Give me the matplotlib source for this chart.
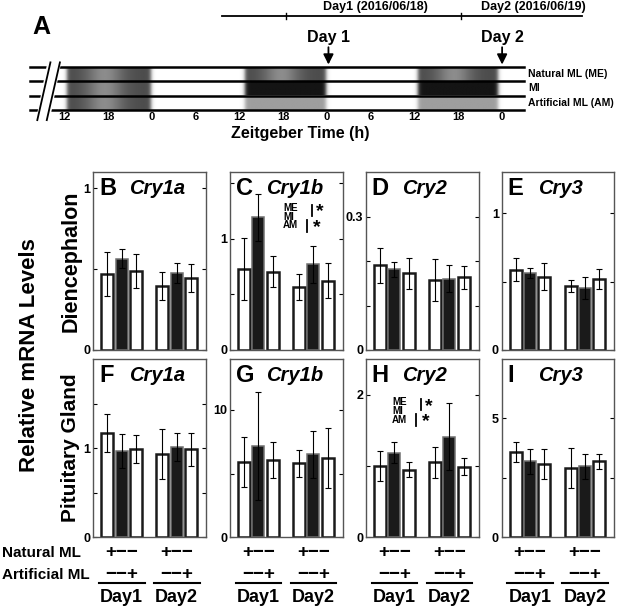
import numpy as np
import matplotlib.pyplot as plt
from matplotlib.transforms import blended_transform_factory

plt.rcParams['font.family'] = ['Liberation Sans', 'DejaVu Sans']
plt.rcParams['font.weight'] = 'bold'

# ---- data ----
genes = ['Cry1a', 'Cry1b', 'Cry2', 'Cry3']
letters_dien = ['B', 'C', 'D', 'E']
letters_pit = ['F', 'G', 'H', 'I']
# bar order: Day1 ME, MI, AM, Day2 ME, MI, AM
dien_mean = [[0.47, 0.565, 0.49, 0.398, 0.476, 0.445],
             [0.728, 1.194, 0.704, 0.567, 0.77, 0.624],
             [0.190, 0.181, 0.172, 0.158, 0.160, 0.163],
             [0.586, 0.562, 0.535, 0.465, 0.45, 0.518]]
dien_err = [[0.135, 0.058, 0.105, 0.086, 0.063, 0.085],
            [0.277, 0.21, 0.14, 0.116, 0.167, 0.16],
            [0.04, 0.016, 0.034, 0.047, 0.03, 0.025],
            [0.084, 0.038, 0.1, 0.043, 0.08, 0.072]]
pit_mean = [[1.17, 0.966, 0.99, 0.936, 1.01, 0.985],
            [5.92, 7.2, 6.07, 5.81, 6.52, 6.23],
            [1.006, 1.185, 0.95, 1.05, 1.41, 0.99],
            [3.6, 3.19, 3.09, 2.92, 2.98, 3.19]]
pit_err = [[0.21, 0.19, 0.16, 0.28, 0.155, 0.18],
           [1.94, 4.24, 1.44, 1.05, 1.85, 2.33],
           [0.21, 0.145, 0.108, 0.22, 0.47, 0.12],
           [0.42, 0.54, 0.64, 0.83, 0.51, 0.33]]
dien_ylim = [1.1, 1.6, 0.4, 1.3]
dien_ticks = [[0, 0.5, 1], [0, 0.5, 1, 1.5], [0, 0.1, 0.2, 0.3], [0, 0.5, 1]]
dien_lab = ['1', '1', '0.3', '1']
pit_ylim = [2.0, 14, 2.5, 7.5]
pit_ticks = [[0, 0.5, 1, 1.5], [0, 5, 10], [0, 1, 2], [0, 2.5, 5]]
pit_lab = ['1', '10', '2', '5']

# panel A: lighting schedule (ZT hours, continuous)
night_on = [12.3, 36.8, 60.5]
night_off = [23.8, 47.9, 71.5]
rows = ['Natural ML (ME)', 'MI', 'Artificial ML (AM)']
row_mode = [['grad', 'grad', 'grad'],
            ['grad', 'black', 'black'],
            ['grad', 'gray', 'gray']]
zt_ticks = [12, 18, 24, 30, 36, 42, 48, 54, 60, 66, 72]
zt_labels = ['12', '18', '0', '6', '12', '18', '0', '6', '12', '18', '0']
date_ticks = [42.4, 66.4]
date_span = [33.6, 82.9]
date_labels = ['Day1 (2016/06/18)', 'Day2 (2016/06/19)']
date_label_x = [54.6, 76.3]
sample_t = [48.2, 72.0]
sample_labels = ['Day 1', 'Day 2']

W, H = 625, 609
fig = plt.figure(figsize=(W / 100, H / 100), dpi=100)


def px_axes(x0, y0, x1, y1):
    return fig.add_axes([x0 / W, 1 - y1 / H, (x1 - x0) / W, (y1 - y0) / H])


# ---- panel A ----
axA = px_axes(30, 66.7, 524, 110)


def band(ax, t0, t1, y0, y1, mode):
    tt = np.linspace(t0 - 0.8, t1 + 0.8, 400)
    edge = 1 / (1 + np.exp(-(tt - t0) / 0.15)) / (1 + np.exp((tt - t1) / 0.15))
    u = (tt - t0) / (t1 - t0)
    if mode == 'grad':
        g = 0.30 + 0.25 * np.exp(-((u - 0.45) / 0.22) ** 2)
    elif mode == 'black':
        g = 0.08 + 0 * u
    else:
        g = 0.62 + 0 * u
    val = 1 - (1 - g) * edge
    ax.imshow(val[None, :], cmap='gray', vmin=0, vmax=1, aspect='auto',
              extent=[tt[0], tt[-1], y0, y1], interpolation='bilinear', zorder=1)


for r in range(3):
    for n in range(3):
        band(axA, night_on[n], night_off[n], 2 - r, 3 - r, row_mode[r][n])
for y in [0, 1, 2, 3]:
    axA.axhline(y, color='black', lw=1.8, clip_on=False, zorder=3)
axA.set_xlim(7.3, 75.0)
axA.set_ylim(0, 3)
for s in axA.spines.values():
    s.set_visible(False)
axA.set_yticks([])
axA.set_xticks(zt_ticks, zt_labels)
axA.tick_params(axis='x', length=0, pad=1.5, labelsize=8)
# axis break
axA.fill([8.2, 9.9, 11.5, 9.8], [-0.7, -0.7, 3.35, 3.35], color='white', zorder=4, clip_on=False)
axA.plot([8.3, 10.1], [-0.7, 3.3], color='black', lw=1.3, zorder=5, clip_on=False)
axA.plot([9.6, 11.4], [-0.7, 3.3], color='black', lw=1.3, zorder=5, clip_on=False)
for r, name in enumerate(rows):
    axA.text(1.008, (2.5 - r) / 3, name, transform=axA.transAxes, ha='left',
             va='center', fontsize=7.5)
for t, lab in zip(sample_t, sample_labels):
    axA.annotate('', xy=(t, 3.15), xytext=(t, 4.35), annotation_clip=False,
                 arrowprops=dict(arrowstyle='-|>,head_width=0.3,head_length=0.6',
                                 color='black', lw=1.3, shrinkA=0, shrinkB=0))
    axA.text(t, 5.05, lab, ha='center', va='center', fontsize=11.5)
trD = blended_transform_factory(axA.transData, fig.transFigure)
yl = 1 - 15.7 / H
axA.plot(date_span, [yl, yl], color='black', lw=1.3, transform=trD, clip_on=False)
for t in date_ticks:
    axA.plot([t, t], [yl - 3 / H, yl + 3 / H], color='black', lw=1.0,
             transform=trD, clip_on=False)
for t, lab in zip(date_label_x, date_labels):
    axA.text(t, 1 - 7 / H, lab, transform=trD, ha='center', va='center', fontsize=9)
fig.text(41 / W, 1 - 27 / H, 'A', fontsize=18, ha='center', va='center')
fig.text(300 / W, 1 - 133 / H, 'Zeitgeber Time (h)', fontsize=11.5, ha='center', va='center')

# ---- bar panels ----
x_pos = [0, 1, 2, 3.85, 4.85, 5.85]
face = ['white', '#1a1a1a', 'white'] * 2
edges = ['#1a1a1a', '#707070', '#1a1a1a'] * 2
lws = [1.8, 1.1, 1.8] * 2
col_left = [93.3, 230, 366, 501.7]
pw = 112.7


def fmt(v):
    return ('%g' % v)


def bar_panel(ax, means, errs, top, ticks, lab, letter, gene):
    ax.bar(x_pos, means, width=0.84, color=face, edgecolor=edges, linewidth=lws, zorder=2)
    ax.errorbar(x_pos, means, yerr=errs, fmt='none', ecolor='black', elinewidth=0.8,
                capsize=2, capthick=0.8, zorder=3)
    ax.set_xlim(-0.99, 6.9)
    ax.set_ylim(0, top)
    ax.set_xticks([])
    ax.set_yticks(ticks)
    ax.set_yticklabels([fmt(t) if fmt(t) in ('0', lab) else '' for t in ticks])
    ax.tick_params(axis='y', direction='in', length=3, width=0.8, right=True,
                   labelsize=9, pad=2)
    for s in ax.spines.values():
        s.set_color('#555555')
        s.set_linewidth(1.0)
    ax.text(0.05, 0.91, letter, transform=ax.transAxes, fontsize=17, ha='left', va='center')
    ax.text(0.32, 0.905, gene, transform=ax.transAxes, fontsize=14.5, style='italic',
            ha='left', va='center')


def sig_marks(ax, x0, y0):
    dy = 0.05
    for k, name in enumerate(['ME', 'MI', 'AM']):
        ax.text(x0, y0 - k * dy, name, transform=ax.transAxes, fontsize=7,
                ha='left', va='center')
    ax.plot([x0 + 0.255, x0 + 0.255], [y0 + 0.015, y0 - 0.045], color='black', lw=1.3,
            transform=ax.transAxes)
    ax.plot([x0 + 0.21, x0 + 0.21], [y0 - 0.068, y0 - 0.135], color='black', lw=1.3,
            transform=ax.transAxes)
    ax.text(x0 + 0.33, y0 - 0.025, '*', transform=ax.transAxes, fontsize=14, ha='center', va='center')
    ax.text(x0 + 0.30, y0 - 0.11, '*', transform=ax.transAxes, fontsize=14, ha='center', va='center')


top_axes = []
bot_axes = []
for i in range(4):
    a1 = px_axes(col_left[i], 172, col_left[i] + pw, 350)
    bar_panel(a1, dien_mean[i], dien_err[i], dien_ylim[i], dien_ticks[i], dien_lab[i],
              letters_dien[i], genes[i])
    top_axes.append(a1)
    a2 = px_axes(col_left[i], 359, col_left[i] + pw, 537.3)
    bar_panel(a2, pit_mean[i], pit_err[i], pit_ylim[i], pit_ticks[i], pit_lab[i],
              letters_pit[i], genes[i])
    bot_axes.append(a2)

sig_marks(top_axes[1], 0.47, 0.80)
sig_marks(bot_axes[2], 0.23, 0.76)

# condition labels under bottom row
for ax in bot_axes:
    tr = blended_transform_factory(ax.transData, fig.transFigure)
    for c, day in zip([1, 4.85], ['Day1', 'Day2']):
        ax.text(c, 1 - 553 / H, '+\u2212\u2212', transform=tr, ha='center', va='center', fontsize=13.5)
        ax.text(c, 1 - 574 / H, '\u2212\u2212+', transform=tr, ha='center', va='center', fontsize=13.5)
        ax.plot([c - 1.6, c + 1.6], [1 - 583 / H] * 2, color='black', lw=1.5,
                transform=tr, clip_on=False)
        ax.text(c, 1 - 598 / H, day, transform=tr, ha='center', va='center', fontsize=13)
fig.text(2 / W, 1 - 553 / H, 'Natural ML', ha='left', va='center', fontsize=11)
fig.text(2 / W, 1 - 575 / H, 'Artificial ML', ha='left', va='center', fontsize=11)

fig.text(30 / W, 1 - 355 / H, 'Relative mRNA Levels', rotation=90, ha='center', va='center', fontsize=16)
fig.text(71 / W, 1 - 261 / H, 'Diencephalon', rotation=90, ha='center', va='center', fontsize=15.5)
fig.text(71 / W, 1 - 448 / H, 'Pituitary Gland', rotation=90, ha='center', va='center', fontsize=15)

fig.savefig('out.png', dpi=100)
